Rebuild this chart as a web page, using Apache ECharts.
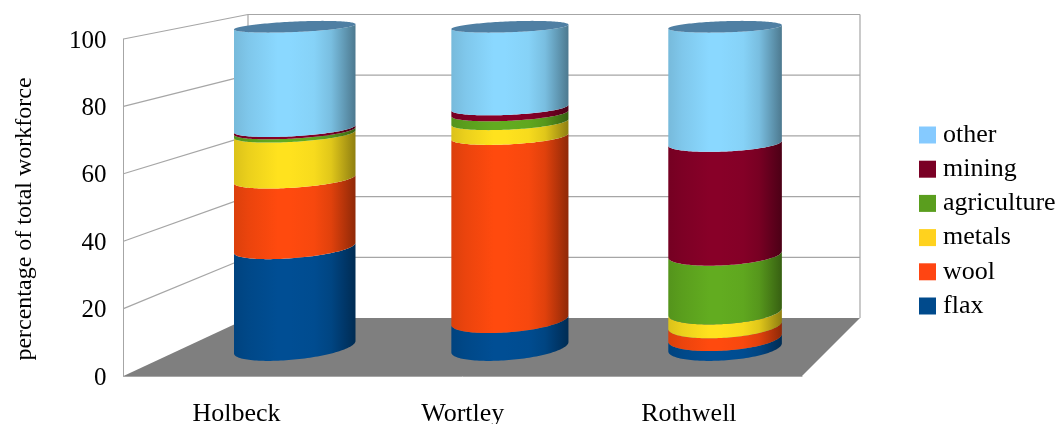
<!DOCTYPE html>
<html>
<head>
<meta charset="utf-8">
<style>html,body{margin:0;padding:0;background:#fff}#chart{width:1060px;height:424px}</style>
<script src="https://cdn.jsdelivr.net/npm/echarts@6/dist/echarts.min.js"></script>
</head>
<body>
<div id="chart"></div>
<script>
// Workforce composition of three townships, as stacked cylinders in a 3D box.
const townships = ['Holbeck', 'Wortley', 'Rothwell'];
const yTicks = [0, 20, 40, 60, 80, 100];
const legendOrder = ['other', 'mining', 'agriculture', 'metals', 'wool', 'flax'];

const flax = [31, 8.5, 3];
const wool = [21.5, 57.3, 3.9];
const metals = [14, 4.5, 4.2];
const agriculture = [1, 2.7, 17.9];
const mining = [0.7, 1.8, 34.7];
const other = [31.8, 25.2, 36.3];

const layers = [
  { name: 'flax', values: flax, swatch: '#004A8C', rgb: [0, 78, 148] },
  { name: 'wool', values: wool, swatch: '#FF4512', rgb: [255, 74, 14] },
  { name: 'metals', values: metals, swatch: '#FFD21E', rgb: [255, 226, 30] },
  { name: 'agriculture', values: agriculture, swatch: '#5A9E1E', rgb: [98, 172, 32] },
  { name: 'mining', values: mining, swatch: '#7A0025', rgb: [136, 0, 40] },
  { name: 'other', values: other, swatch: '#85CAFF', rgb: [138, 216, 255] }
];

// Box geometry: the plot grid is the front plane; the back plane is a shrunken copy.
const grid = { left: 123.5, top: 39, width: 678.5, height: 337 };
const back = { left: 248, right: 860, top: 14.5, bottom: 318 };
const gridColor = '#A6A6A6';
const floorColor = '#7F7F7F';
const depthCentre = 0.5;
const depthRadius = 0.24;
const bandRadius = 0.2525;
const sideNudge = 2;

const frontBottom = grid.top + grid.height;
const project = (xf, yf, d) => {
  const xb = back.left + (xf - grid.left) * (back.right - back.left) / grid.width;
  const yb = back.bottom - (frontBottom - yf) * (back.bottom - back.top) / grid.height;
  return [xf + (xb - xf) * d, yf + (yb - yf) * d];
};

const shades = [[0, .86], [.12, .92], [.36, 1], [.46, 1], [.66, .97], [.8, .88], [.9, .72], [1, .56]];
const shade = (rgb, f) => 'rgb(' + rgb.map(c => Math.round(c * f)).join(',') + ')';

// Front half of the circular slice at one value, walked from the left silhouette to the right.
function frontArc(api, cat, value, bandWidth) {
  const c = api.coord([cat, value]);
  const steps = 144;
  const pts = [];
  for (let i = 0; i < steps; i++) {
    const t = i / steps * Math.PI * 2;
    const p = project(c[0] + bandRadius * bandWidth * Math.cos(t), c[1], depthCentre + depthRadius * Math.sin(t));
    pts.push([p[0] + sideNudge, p[1]]);
  }
  let lo = 0, hi = 0;
  pts.forEach((p, i) => { if (p[0] < pts[lo][0]) lo = i; if (p[0] > pts[hi][0]) hi = i; });
  const arc = [];
  for (let i = lo; ; i = (i + 1) % steps) { arc.push(pts[i]); if (i === hi) break; }
  return { arc, all: pts, left: pts[lo][0], right: pts[hi][0] };
}

function renderLayer(layer, isTop) {
  return (params, api) => {
    const cat = api.value(0), v0 = api.value(1), v1 = api.value(2);
    const bw = api.size([1, 0])[0];
    const low = frontArc(api, cat, v0, bw);
    const high = frontArc(api, cat, v1, bw);
    const children = [{
      type: 'polygon',
      shape: { points: low.arc.concat(high.arc.slice().reverse()) },
      style: {
        fill: {
          type: 'linear', global: true, x: low.left, y: 0, x2: low.right, y2: 0,
          colorStops: shades.map(s => ({ offset: s[0], color: shade(layer.rgb, s[1]) }))
        }
      }
    }];
    if (isTop) {
      children.push({ type: 'polygon', shape: { points: high.all }, style: { fill: '#4F7FA3' } });
    }
    return { type: 'group', children };
  };
}

// Floor, walls and gridlines of the box.
function renderBox(params, api) {
  const tick = api.value(0);
  const p = api.coord([0, tick]);
  const y = p[1];
  const a = [grid.left, y];
  const b = project(grid.left, y, 1);
  const c = project(grid.left + grid.width, y, 1);
  const line = (s, e) => ({
    type: 'line', shape: { x1: s[0], y1: s[1], x2: e[0], y2: e[1] },
    style: { stroke: gridColor, lineWidth: 1.2 }
  });
  const children = [];
  if (tick === 0) {
    children.push({
      type: 'polygon',
      shape: { points: [a, b, c, [grid.left + grid.width, y]] },
      style: { fill: floorColor }
    });
    children.push(line(b, [b[0], back.top]));
    children.push(line(c, [c[0], back.top]));
  } else {
    children.push(line(a, b), line(b, c));
  }
  return { type: 'group', children };
}

const serif = '"Liberation Serif", "Times New Roman", serif';
const stackBase = townships.map(() => 0);
const cylinderSeries = layers.map((layer, i) => ({
  name: layer.name,
  type: 'custom',
  clip: false,
  z: 5 + i,
  itemStyle: { color: layer.swatch },
  encode: { x: 0, y: [1, 2] },
  renderItem: renderLayer(layer, i === layers.length - 1),
  data: layer.values.map((v, c) => {
    const row = [c, stackBase[c], stackBase[c] + v];
    stackBase[c] += v;
    return row;
  })
}));

const chart = echarts.init(document.getElementById('chart'), null, { renderer: 'canvas' });
chart.setOption({
  animation: false,
  backgroundColor: '#fff',
  grid: Object.assign({ containLabel: false, outerBoundsMode: 'none' }, grid),
  legend: {
    data: legendOrder,
    orient: 'vertical',
    left: 919,
    top: 122,
    padding: 0,
    itemWidth: 17,
    itemHeight: 17,
    itemGap: 8.2,
    icon: 'rect',
    selectedMode: false,
    textStyle: { fontFamily: serif, fontSize: 26, color: '#000', padding: [0, 0, 0, 2] }
  },
  xAxis: {
    type: 'category',
    data: townships,
    axisLine: { show: true, lineStyle: { color: gridColor } },
    axisTick: { show: false },
    axisLabel: { fontFamily: serif, fontSize: 26, color: '#000', margin: 25 }
  },
  yAxis: {
    type: 'value',
    min: 0,
    max: 100,
    interval: 20,
    name: 'percentage of total workforce',
    nameLocation: 'middle',
    nameGap: 87,
    nameTextStyle: { fontFamily: serif, fontSize: 24, color: '#000', padding: [0, 23, 0, 0] },
    axisLine: { show: true, lineStyle: { color: gridColor } },
    axisTick: { show: false },
    splitLine: { show: false },
    axisLabel: {
      margin: 17,
      formatter: '{t|{value}}',
      rich: { t: { fontFamily: serif, fontSize: 25, color: '#000', padding: [4, 0, 0, 0] } }
    }
  },
  series: [{
    type: 'custom',
    name: 'box',
    clip: false,
    silent: true,
    z: 1,
    encode: { x: 1, y: 0 },
    renderItem: renderBox,
    data: yTicks.map(t => [t, 0])
  }].concat(cylinderSeries)
});
</script>
</body>
</html>
